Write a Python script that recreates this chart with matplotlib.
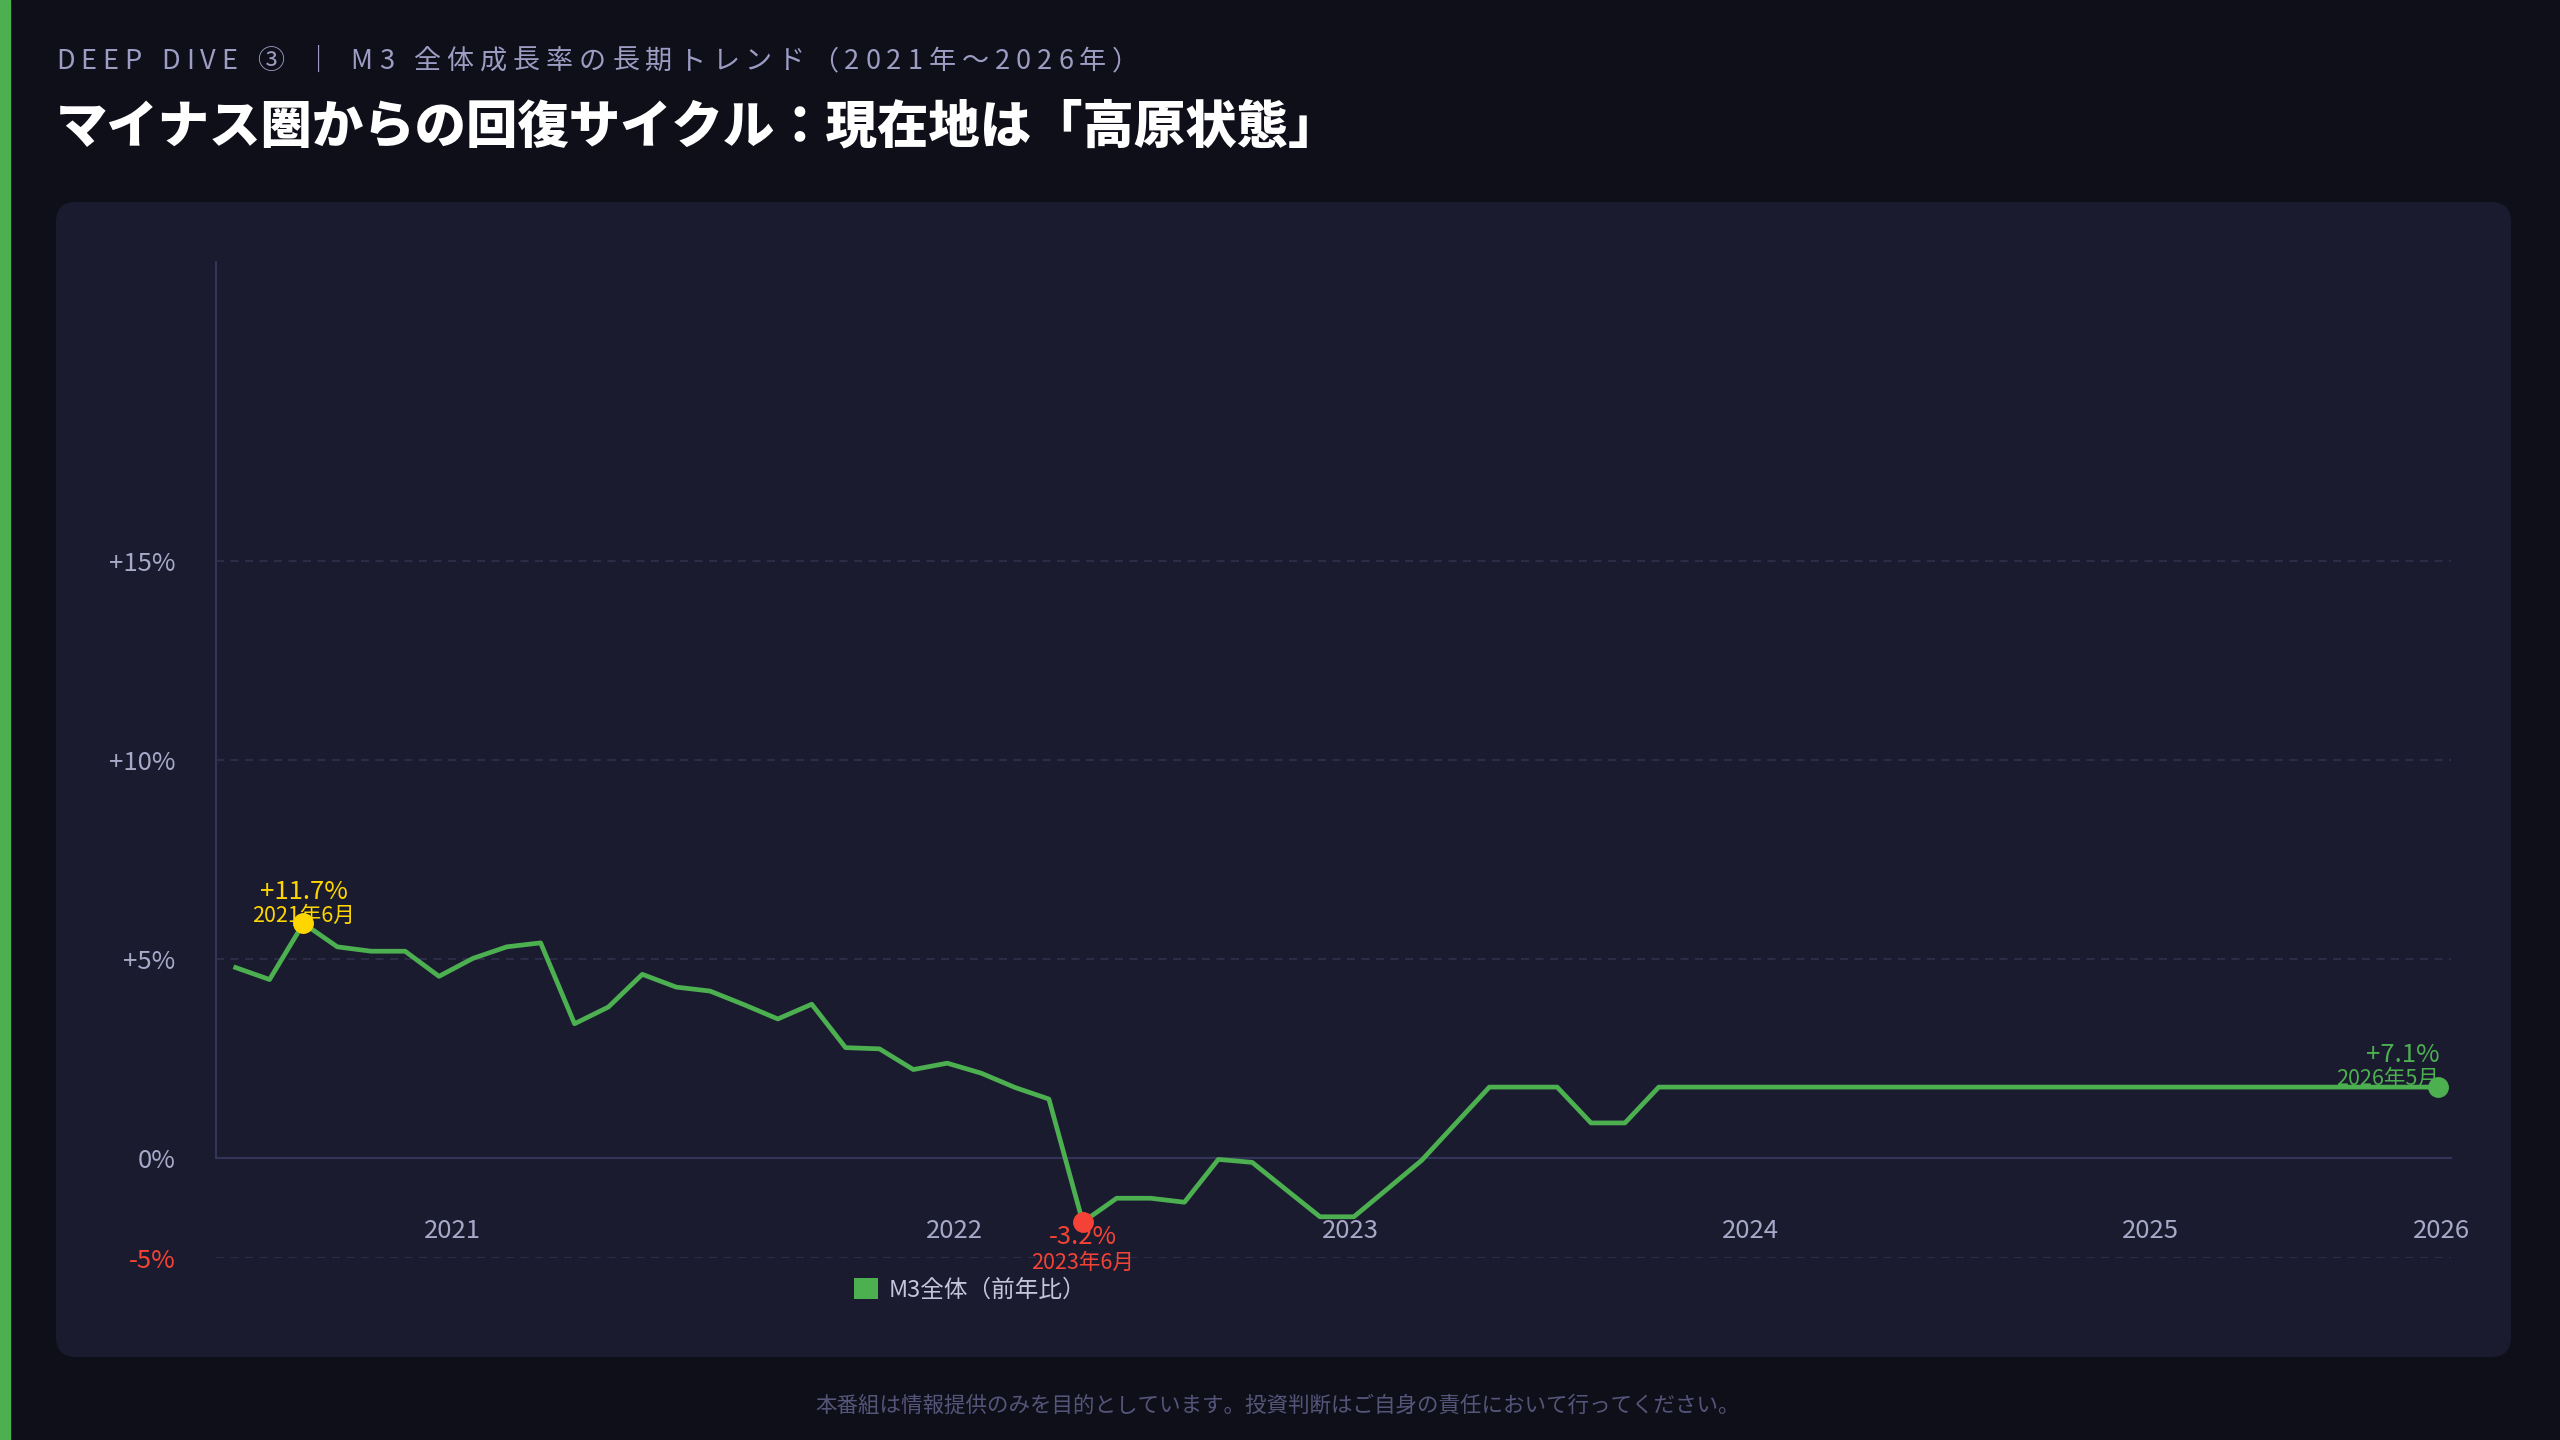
import numpy as np
import matplotlib.pyplot as plt
from matplotlib.patches import FancyBboxPatch, Rectangle, Patch
from matplotlib.transforms import IdentityTransform

plt.rcParams['font.family'] = ['Noto Sans CJK JP', 'DejaVu Sans']

W, H = 2560, 1440
GREEN = '#4caf50'
RED = '#f44336'
YELLOW = '#ffd600'
MUTED = '#a8a8c8'

# M3 全体（前年比）
m3_growth = [4.79, 4.49, 5.90, 5.31, 5.20, 5.20, 4.57, 5.02, 5.31, 5.41,
             3.38, 3.80, 4.62, 4.30, 4.20, 3.86, 3.50, 3.87, 2.78, 2.75,
             2.23, 2.39, 2.14, 1.78, 1.49, -3.20, -2.00, -2.00, -2.20, -0.05,
             -0.20, -1.57, -2.93, -2.93, -1.52, -0.10, 0.87, 1.79, 1.79, 1.79,
             0.89, 0.89, 1.79, 1.79, 1.79, 1.79, 1.79, 1.79, 1.79, 1.79,
             1.79, 1.79, 1.79, 1.79, 1.79, 1.79, 1.79, 1.79, 1.79, 1.79,
             1.79, 1.79, 1.79, 1.79, 1.79, 1.79]
series_name = 'M3全体（前年比）'

year_labels = ['2021', '2022', '2023', '2024', '2025', '2026']
year_pos = [6.4, 21.2, 32.9, 44.7, 56.5, 65.1]

y_ticks = [-5, 0, 5, 10, 15]
y_tick_labels = ['-5%', '0%', '+5%', '+10%', '+15%']

callout_values = ['+11.7%', '-3.2%', '+7.1%']
callout_dates = ['2021年6月', '2023年6月', '2026年5月']


# negative side of the axis is drawn at half scale
def fwd(v):
    v = np.asarray(v, dtype=float)
    return np.where(v < 0, v * 0.5, v)


def inv(u):
    u = np.asarray(u, dtype=float)
    return np.where(u < 0, u * 2.0, u)


fig = plt.figure(figsize=(W / 100, H / 100), dpi=100, facecolor='#0f0f1a')
fig.add_artist(Rectangle((0, 0), 10 / W, 1, transform=fig.transFigure,
                         color=GREEN, zorder=0))
fig.add_artist(FancyBboxPatch((56, 83), 2455, 1155,
                              boxstyle='round,pad=0,rounding_size=20',
                              transform=IdentityTransform(),
                              fc='#1a1b2f', ec='none', zorder=0))

ax = fig.add_axes([215.7 / W, 182 / H, (2451 - 215.7) / W, 996 / H])
ax.set_facecolor('none')
ax.set_yscale('function', functions=(fwd, inv))

x = np.arange(len(m3_growth))
y = np.array(m3_growth)
ax.plot(x, y, color=GREEN, lw=3.4, zorder=3, label=series_name)

ax.set_xlim(-0.59, 65.38)
ax.set_ylim(-5, 22.5)

for s in ['top', 'right']:
    ax.spines[s].set_visible(False)
ax.spines['bottom'].set_position(('data', 0))
ax.spines['left'].set_bounds(0, 22.5)
for s in ['bottom', 'left']:
    ax.spines[s].set_color('#34345a')
    ax.spines[s].set_linewidth(1.5)

ax.set_yticks(y_ticks, y_tick_labels)
ax.set_xticks(year_pos, year_labels)
ax.tick_params(axis='y', length=0, pad=29, labelsize=18.5, labelcolor=MUTED)
ax.tick_params(axis='x', length=0, pad=43, labelsize=18.5, labelcolor=MUTED)
ax.get_yticklabels()[0].set_color(RED)
ax.yaxis.grid(True, color='#30304c', lw=1.2, linestyle=(0, (4.8, 3.9)))
ax.set_axisbelow(True)

# highlighted points: peak, trough, latest
peak_i = int(np.argmax(y))
trough_i = int(np.argmin(y))
last_i = len(y) - 1
marks = [(peak_i, YELLOW, 'center', (0, 31), (0, 7)),
         (trough_i, RED, 'center', (0, -15), (0, -41)),
         (last_i, GREEN, 'right', (2, 32), (1, 8))]
for k, (i, col, ha, off_v, off_d) in enumerate(marks):
    ax.plot(x[i], y[i], 'o', ms=14, color=col, zorder=4, clip_on=False)
    ax.annotate(callout_values[k], (x[i], y[i]), xytext=off_v,
                textcoords='offset pixels', ha=ha, va='center', color=col,
                fontsize=18.5, zorder=2, annotation_clip=False)
    ax.annotate(callout_dates[k], (x[i], y[i]), xytext=off_d,
                textcoords='offset pixels', ha=ha, va='center', color=col,
                fontsize=15.5, zorder=2, annotation_clip=False)

fig.legend(handles=[Patch(facecolor=GREEN, label=series_name)],
           loc='center left', bbox_to_anchor=(854 / W, 1 - 1290 / H),
           frameon=False, fontsize=17, handlelength=1.0, handleheight=1.0,
           handletextpad=0.45, borderpad=0, borderaxespad=0,
           labelcolor='#c4c4dc')


# subtitle with letter spacing, drawn char by char
def spaced_text(x_px, base_px, text, size, color, gap):
    r = fig.canvas.get_renderer()
    for ch in text:
        if ch == ' ':
            x_px += size * 100 / 72 * 0.28 + gap
            continue
        t = fig.text(x_px / W, 1 - base_px / H, ch, fontsize=size,
                     color=color, ha='left', va='baseline')
        x_px += t.get_window_extent(r).width + gap


spaced_text(56, 69, 'DEEP DIVE ③ ｜ M3 全体成長率の長期トレンド（2021年～2026年）',
            19.5, '#9d9dc4', 6)

fig.text(56 / W, 1 - 127 / H, 'マイナス圏からの回復サイクル：現在地は「高原状態」',
         fontsize=37, fontweight='heavy', color='white', va='center', ha='left')

fig.text(1278 / W, 1 - 1406 / H,
         '本番組は情報提供のみを目的としています。投資判断はご自身の責任において行ってください。',
         fontsize=15.5, color='#55557a', ha='center', va='center')

fig.savefig('out.png', dpi=100, facecolor=fig.get_facecolor())
